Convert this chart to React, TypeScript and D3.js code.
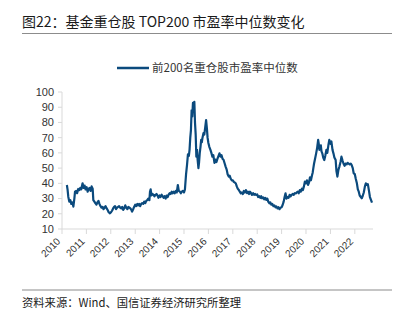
import React from "react";
import * as d3 from "d3";

const dates: string[] = [
  "2010-03-15","2010-03-25","2010-04-05","2010-04-20","2010-05-05","2010-05-20","2010-06-05","2010-06-20","2010-07-05","2010-07-15","2010-08-01","2010-08-15","2010-09-01","2010-09-15","2010-10-01","2010-10-15","2010-11-05","2010-11-20","2010-12-05","2010-12-20",
  "2011-01-05","2011-01-20","2011-02-05","2011-02-20","2011-03-05","2011-03-20","2011-04-05","2011-04-15","2011-05-01","2011-05-15","2011-06-01","2011-06-15","2011-07-01","2011-07-15","2011-08-01","2011-08-15","2011-09-01","2011-09-15","2011-10-01","2011-10-15","2011-11-01","2011-11-15","2011-12-01","2011-12-20",
  "2012-01-05","2012-01-20","2012-02-05","2012-02-20","2012-03-05","2012-03-20","2012-04-05","2012-04-20","2012-05-05","2012-05-20","2012-06-05","2012-06-20","2012-07-05","2012-07-20","2012-08-05","2012-08-20","2012-09-05","2012-09-20","2012-10-05","2012-10-20","2012-11-05","2012-11-15","2012-12-01","2012-12-15",
  "2013-01-01","2013-01-15","2013-02-01","2013-02-15","2013-03-01","2013-03-15","2013-04-01","2013-04-15","2013-05-01","2013-05-15","2013-06-01","2013-06-15","2013-07-01","2013-07-15","2013-08-01","2013-08-10","2013-08-20","2013-09-01","2013-09-15","2013-10-01","2013-10-15","2013-11-01","2013-11-15","2013-12-01","2013-12-15",
  "2014-01-01","2014-01-15","2014-02-01","2014-02-15","2014-03-01","2014-03-15","2014-04-01","2014-04-15","2014-05-01","2014-05-15","2014-06-01","2014-06-15","2014-07-01","2014-07-15","2014-08-01","2014-08-15","2014-09-01","2014-09-15","2014-10-01","2014-10-15","2014-11-01","2014-11-15","2014-12-01","2014-12-15",
  "2015-01-01","2015-01-15","2015-02-01","2015-02-15","2015-03-01","2015-03-15","2015-03-25","2015-04-05","2015-04-15","2015-04-25","2015-05-05","2015-05-15","2015-05-25","2015-06-05","2015-06-15","2015-06-25","2015-07-05","2015-07-15","2015-07-25","2015-08-05","2015-08-15","2015-08-25","2015-09-05","2015-09-15","2015-09-25","2015-10-05","2015-10-20","2015-11-01","2015-11-15","2015-11-28","2015-12-10","2015-12-20",
  "2016-01-01","2016-01-15","2016-02-01","2016-02-15","2016-03-01","2016-03-15","2016-04-01","2016-04-15","2016-05-01","2016-05-15","2016-06-01","2016-06-15","2016-07-01","2016-07-15","2016-08-01","2016-08-15","2016-09-01","2016-09-15","2016-10-01","2016-10-15","2016-11-01","2016-11-15","2016-12-01","2016-12-15",
  "2017-01-01","2017-01-15","2017-02-01","2017-02-15","2017-03-01","2017-03-15","2017-04-01","2017-04-15","2017-05-01","2017-05-15","2017-06-01","2017-06-15","2017-07-01","2017-07-15","2017-08-01","2017-08-15","2017-09-01","2017-09-15","2017-10-01","2017-10-15","2017-11-01","2017-11-15","2017-12-01","2017-12-15",
  "2018-01-01","2018-01-15","2018-02-01","2018-02-15","2018-03-01","2018-03-15","2018-04-01","2018-04-15","2018-05-01","2018-05-15","2018-06-01","2018-06-15","2018-07-01","2018-07-15","2018-08-01","2018-08-15","2018-09-01","2018-09-15","2018-10-01","2018-10-15","2018-11-01","2018-11-15","2018-12-01","2018-12-15",
  "2019-01-01","2019-01-15","2019-02-01","2019-02-15","2019-03-01","2019-03-15","2019-04-01","2019-04-15","2019-05-01","2019-05-15","2019-06-01","2019-06-15","2019-07-01","2019-07-15","2019-08-01","2019-08-15","2019-09-01","2019-09-15","2019-10-01","2019-10-15","2019-11-01","2019-11-15","2019-12-01","2019-12-15",
  "2020-01-01","2020-01-15","2020-02-01","2020-02-15","2020-03-01","2020-03-15","2020-04-01","2020-04-10","2020-04-20","2020-05-01","2020-05-15","2020-06-01","2020-06-15","2020-07-01","2020-07-10","2020-07-20","2020-08-01","2020-08-10","2020-08-20","2020-09-01","2020-09-15","2020-10-01","2020-10-15","2020-11-01","2020-11-15","2020-12-01","2020-12-15",
  "2021-01-01","2021-01-15","2021-02-01","2021-02-15","2021-03-01","2021-03-20","2021-04-01","2021-04-15","2021-05-01","2021-05-15","2021-06-01","2021-06-15","2021-07-01","2021-07-15","2021-08-01","2021-08-15","2021-09-01","2021-09-15","2021-10-01","2021-10-15","2021-11-01","2021-11-15","2021-12-01","2021-12-15",
  "2022-01-01","2022-01-15","2022-02-01","2022-02-15","2022-03-01","2022-03-15","2022-04-01","2022-04-15","2022-05-01","2022-05-15","2022-06-01","2022-06-15","2022-07-01","2022-07-15","2022-08-01","2022-08-15","2022-09-01","2022-09-15"
];

const values: number[] = [
  38.9,36,31.2,28,29,26.5,27.5,24.7,30,34.5,35,33.5,36.3,35.5,37,36,40,37,38.5,36,
  37.5,34.5,36.5,37,35,38,36.5,29,28,27,26,27.5,28.5,26.5,25,24,24.5,23,24,25,23.5,22.5,21,20.3,
  21,22,23.5,24.5,25,23,24,24.5,25,24,23.5,24.5,22.5,23.5,25.5,24,23,24.5,24,23.5,22.5,21.4,23,24.5,
  26,25,26.5,25.5,26.5,25,26.5,27,26.5,28,27,28.5,29,30,29,34.5,36,32,33,32.6,31.5,32.5,33,32,30.5,
  32,31,32.5,31.5,30.5,31.5,30,32,31,32.5,33.5,33,34.5,33.5,34.5,33.5,35,34,38.9,35,34.5,33.5,34.5,35,
  34,36,46,52,59,58,62,70,75,88,84,92.8,90,93.6,79.6,72,57.5,62,55,50,54,60,64,68.5,67,70,73,72,77,81.6,76,70,
  66.5,64,62,60,57.5,58.5,53.4,55.6,54,56,58,59.7,57.5,58.5,56,55.5,53,51,49,46,44.4,45,43,42,
  42,41,40.5,39.9,38,36.5,35.6,34.5,33.4,34,33,35,34,35.6,33.5,34.5,33,34.5,33.5,32.4,33.5,32.5,33,32.4,
  32.7,31,31.5,30.5,31.5,30.2,30.8,29.5,30.5,29.1,30,28,26.9,27.5,26,26.5,25,25.5,24.3,24.8,23.5,24.3,23,24,
  24.3,25.6,28,31,33.4,30,31,30.5,32.4,31.5,32.5,33,32.5,33.5,33.4,34,34.5,33.5,35.6,34.5,36.5,35.5,38,41.1,
  40,42,39,40.5,44,42,45.5,47,50,53,56,59.7,63,68.5,66,62,64,65,61,59.7,57,55.3,58,62,60,65,68.5,
  66,67.5,62,59.7,57,55.3,48,44.4,49,51,54,57.5,55,53,51.5,53,52.5,53.5,53,52.5,53,52,50,46.6,
  46,43,40,36,34.5,32,31,30.2,32,34,38,40,39,39.5,35,31,29,27.3
];

const yTicks: number[] = [10, 20, 30, 40, 50, 60, 70, 80, 90, 100];
const xYears: number[] = [2010, 2011, 2012, 2013, 2014, 2015, 2016, 2017, 2018, 2019, 2020, 2021, 2022];

const titleText = "图22：基金重仓股 TOP200 市盈率中位数变化";
const seriesName = "前200名重仓股市盈率中位数";
const sourceText = "资料来源：Wind、国信证券经济研究所整理";

export default function App() {
  const W = 406, H = 321;
  const left = 62, right = 373, top = 92, bottom = 229;
  const parse = d3.timeParse("%Y-%m-%d");
  const data = dates.map((d, i) => ({ date: parse(d) as Date, value: values[i] }));
  const x = d3.scaleTime()
    .domain([new Date(2010, 0, 1), new Date(2022, 8, 30)])
    .range([left, right]);
  const y = d3.scaleLinear().domain([10, 100]).range([bottom, top]);
  const line = d3.line<{ date: Date; value: number }>()
    .x(d => x(d.date))
    .y(d => y(d.value))
    .curve(d3.curveLinear);
  const color = "#0b4a7d";
  const axisColor = "#d9d9d9";
  const cjk = "'Noto Sans CJK SC', 'Noto Sans', sans-serif";
  const latin = "'Liberation Sans', Arial, sans-serif";

  return (
    <svg width={W} height={H} style={{ position: "absolute", left: 0, top: 0, background: "#fff" }}>
      <rect x={0} y={0} width={W} height={H} fill="#fff" />
      <text x={22} y={27} fontFamily={cjk} fontSize={14} fill="#1a1a1a">{titleText}</text>
      <line x1={22} x2={392} y1={33.5} y2={33.5} stroke="#8c8c8c" strokeWidth={1.2} />

      <line x1={117} x2={149} y1={68} y2={68} stroke={color} strokeWidth={2.5} />
      <text x={152} y={72} fontFamily={cjk} fontSize={11.5} fill="#333">{seriesName}</text>

      <line x1={left} x2={left} y1={top} y2={bottom} stroke={axisColor} strokeWidth={1} />
      {yTicks.map(t => (
        <g key={t}>
          <line x1={left - 4} x2={left} y1={y(t)} y2={y(t)} stroke={axisColor} />
          <text x={54} y={y(t)} dy="0.35em" textAnchor="end" fontFamily={latin} fontSize={11} fill="#333">{t}</text>
        </g>
      ))}
      <line x1={left} x2={right} y1={bottom} y2={bottom} stroke={axisColor} strokeWidth={1} />
      {xYears.map(yr => {
        const xx = x(new Date(yr, 0, 1));
        return (
          <g key={yr}>
            <line x1={xx} x2={xx} y1={bottom} y2={bottom + 5} stroke={axisColor} />
            <text transform={`translate(${xx - 1},${bottom + 13}) rotate(-45)`} textAnchor="end" fontFamily={latin} fontSize={10} fill="#333">{yr}</text>
          </g>
        );
      })}

      <path d={line(data) || ""} fill="none" stroke={color} strokeWidth={2.2} strokeLinejoin="round" />

      <line x1={22} x2={392} y1={290} y2={290} stroke="#8c8c8c" strokeWidth={1.2} />
      <text x={22} y={307} fontFamily={cjk} fontSize={11.3} fill="#1a1a1a">{sourceText}</text>
    </svg>
  );
}
